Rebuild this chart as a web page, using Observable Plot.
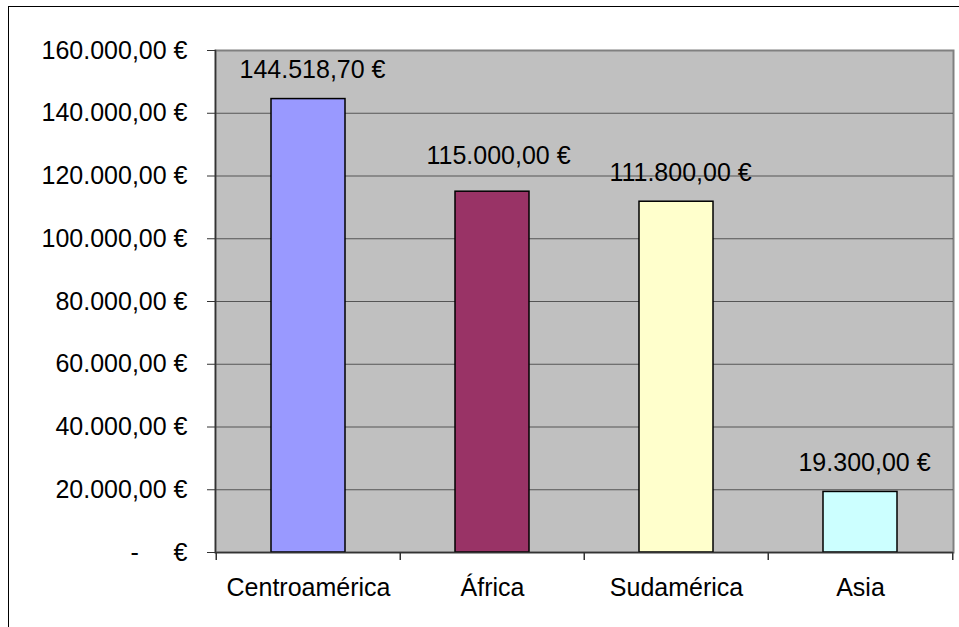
<!DOCTYPE html>
<html><head><meta charset="utf-8">
<script src="https://cdn.jsdelivr.net/npm/d3@7"></script>
<script src="https://cdn.jsdelivr.net/npm/@observablehq/plot@0.6"></script>
<style>
body{margin:0;background:#fff;}
#wrap{position:relative;width:959px;height:627px;overflow:hidden;}
#border{position:absolute;left:8px;top:6px;width:1000px;height:700px;border-left:1.5px solid #000;border-top:1.5px solid #000;}
#wrap svg{position:absolute;left:0;top:0;}
</style></head><body><div id="wrap"><div id="border"></div></div>
<script>
const categories = ["Centroamérica", "África", "Sudamérica", "Asia"];
const values = [144518.70, 115000, 111800, 19300];
const colors = ["#9999FF", "#993366", "#FFFFCC", "#CCFFFF"];
const yTicks = [0, 20000, 40000, 60000, 80000, 100000, 120000, 140000, 160000];

const locale = d3.formatLocale({decimal: ",", thousands: ".", grouping: [3], currency: ["", " €"]});
const num = locale.format(",.2f");
const fmt = v => v === 0 ? "-\u00a0\u00a0\u00a0\u00a0\u00a0€" : num(v) + " €";

const W = 959, H = 627, mL = 215, mR = 6, mT = 50, mB = 75;
const bw = (W - mL - mR) / categories.length;
const data = categories.map((c, i) => ({cat: c, value: values[i], color: colors[i]}));

const chart = Plot.plot({
  width: W, height: H,
  marginLeft: mL, marginRight: mR, marginTop: mT, marginBottom: mB,
  style: {fontFamily: "'Liberation Sans', Arial, sans-serif", fontSize: "25px", color: "#000", background: "transparent", overflow: "visible"},
  x: {domain: categories, padding: 0},
  y: {domain: [0, 160000]},
  marks: [
    Plot.frame({fill: "#c0c0c0", stroke: "#808080", strokeWidth: 2}),
    Plot.ruleY(yTicks.filter(t => t > 0 && t < 160000), {stroke: "#555", strokeWidth: 1}),
    Plot.barY(data, {x: "cat", y: "value", fill: "color", stroke: "#000", strokeWidth: 1.5, insetLeft: 55, insetRight: 55}),
    Plot.frame({anchor: "left", stroke: "#333", strokeWidth: 1.5}),
    Plot.ruleY([0], {stroke: "#333", strokeWidth: 1.5}),
    Plot.axisY({ticks: yTicks, tickSize: 8, tickPadding: 20, tickFormat: fmt, stroke: "#333", label: null}),
    Plot.axisX({tickSize: 0, tickPadding: 26, label: null}),
    Plot.ruleX(categories, {x: d => d, y1: 0, y2: 0, dx: -bw / 2, insetBottom: -8, stroke: "#333", strokeWidth: 1.5}),
    Plot.ruleX(categories.slice(-1), {x: d => d, y1: 0, y2: 0, dx: bw / 2, insetBottom: -8, stroke: "#333", strokeWidth: 1.5}),
    Plot.text(data.filter(d => d.cat !== "África"), {x: "cat", y: "value", text: d => fmt(d.value), lineAnchor: "middle", dy: -29, dx: 4, fill: "#000"}),
    Plot.text(data.filter(d => d.cat === "África"), {x: "cat", y: "value", text: d => fmt(d.value), lineAnchor: "middle", dy: -36, dx: 6, fill: "#000"})
  ]
});
document.getElementById("wrap").appendChild(chart);
</script>
</body></html>
